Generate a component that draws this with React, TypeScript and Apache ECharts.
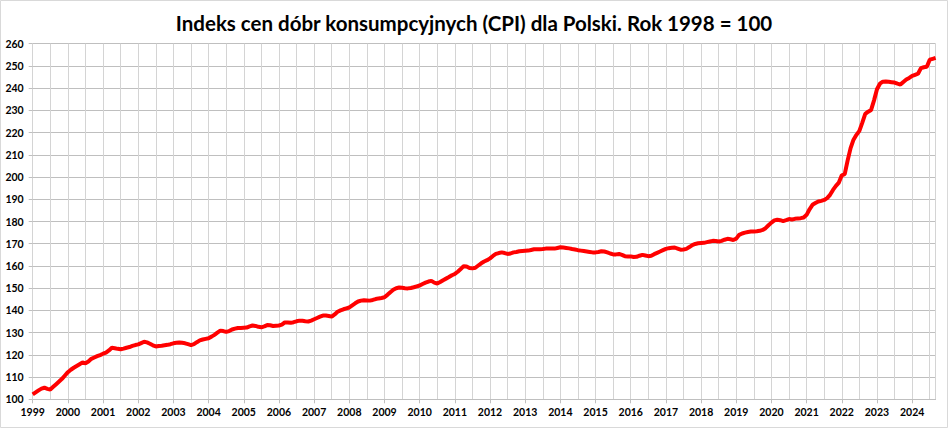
import React, { useEffect, useRef } from "react";
import * as echarts from "echarts";

const TITLE = "Indeks cen dóbr konsumpcyjnych (CPI) dla Polski. Rok 1998 = 100";

const years = [
  1999, 2000, 2001, 2002, 2003, 2004, 2005, 2006, 2007, 2008, 2009, 2010, 2011,
  2012, 2013, 2014, 2015, 2016, 2017, 2018, 2019, 2020, 2021, 2022, 2023, 2024,
];
const lastYearMonths = 9; // data runs to September 2024

// Monthly CPI values (1998 = 100), Jan 1999 .. Sep 2024
const cpi = [
  // 1999
  102.2, 103.1, 104.0, 104.8, 105.2, 104.7, 104.4, 105.6, 106.8, 108.0, 109.2, 110.7,
  // 2000
  112.2, 113.3, 114.2, 115.0, 115.8, 116.6, 116.2, 117.0, 118.2, 118.8, 119.4, 119.9,
  // 2001
  120.5, 121.0, 122.0, 123.2, 123.0, 122.7, 122.5, 122.8, 123.2, 123.5, 124.0, 124.4,
  // 2002
  124.7, 125.3, 125.9, 125.6, 125.0, 124.3, 123.8, 124.0, 124.1, 124.3, 124.5, 124.8,
  // 2003
  125.2, 125.4, 125.6, 125.4, 125.2, 124.8, 124.4, 124.8, 125.7, 126.5, 126.9, 127.2,
  // 2004
  127.5, 128.2, 129.0, 130.0, 130.9, 130.7, 130.3, 130.7, 131.4, 131.8, 132.1, 132.1,
  // 2005
  132.2, 132.3, 132.8, 133.2, 133.0, 132.6, 132.4, 132.8, 133.4, 133.3, 133.0, 133.1,
  // 2006
  133.2, 133.6, 134.6, 134.6, 134.4, 134.7, 135.1, 135.4, 135.3, 135.1, 135.0, 135.4,
  // 2007
  136.0, 136.6, 137.2, 137.7, 137.7, 137.5, 137.2, 138.2, 139.4, 140.0, 140.5, 140.9,
  // 2008
  141.3, 142.3, 143.2, 144.0, 144.4, 144.6, 144.5, 144.4, 144.7, 145.1, 145.4, 145.6,
  // 2009
  145.9, 147.0, 148.2, 149.3, 150.0, 150.3, 150.2, 150.0, 149.9, 150.1, 150.4, 150.8,
  // 2010
  151.2, 151.9, 152.5, 153.0, 153.3, 152.5, 152.1, 152.8, 153.6, 154.3, 155.0, 155.8,
  // 2011
  156.4, 157.4, 158.6, 159.9, 159.8, 159.1, 158.9, 159.2, 160.2, 161.2, 162.0, 162.6,
  // 2012
  163.4, 164.5, 165.4, 165.8, 166.1, 165.8, 165.4, 165.6, 166.1, 166.3, 166.6, 166.7,
  // 2013
  166.8, 166.9, 167.2, 167.5, 167.5, 167.5, 167.6, 167.8, 167.8, 167.8, 167.8, 168.1,
  // 2014
  168.4, 168.3, 168.1, 167.9, 167.6, 167.4, 167.1, 166.9, 166.7, 166.5, 166.3, 166.1,
  // 2015
  166.1, 166.3, 166.6, 166.5, 166.1, 165.6, 165.2, 165.2, 165.4, 165.0, 164.4, 164.3,
  // 2016
  164.3, 164.0, 164.1, 164.6, 165.0, 164.7, 164.4, 164.6, 165.3, 165.9, 166.5, 167.1,
  // 2017
  167.7, 168.0, 168.2, 168.3, 167.8, 167.3, 167.4, 167.7, 168.5, 169.4, 169.9, 170.2,
  // 2018
  170.3, 170.4, 170.7, 171.0, 171.3, 171.2, 171.0, 171.3, 171.8, 172.2, 172.0, 171.7,
  // 2019
  172.3, 174.0, 174.6, 175.0, 175.3, 175.5, 175.5, 175.6, 175.8, 176.2, 177.0, 178.3,
  // 2020
  179.5, 180.5, 180.8, 180.6, 180.2, 180.6, 181.1, 180.9, 181.2, 181.4, 181.5, 181.8,
  // 2021
  183.0, 185.5, 187.5, 188.3, 189.0, 189.3, 189.7, 190.5, 192.0, 194.2, 196.0, 197.5,
  // 2022
  200.8, 201.3, 207.5, 213.0, 216.8, 219.0, 220.8, 224.5, 228.4, 229.4, 230.2, 234.5,
  // 2023
  239.5, 242.0, 242.9, 243.0, 242.9, 242.7, 242.5, 242.0, 241.6, 242.8, 243.9, 244.6,
  // 2024
  245.5, 246.0, 246.5, 249.0, 249.4, 249.6, 252.8, 253.2, 253.6,
];

const yMin = 100;
const yMax = 260;
const yStep = 10;

const months: string[] = [];
years.forEach((y, yi) => {
  const n = yi === years.length - 1 ? lastYearMonths : 12;
  for (let m = 1; m <= n; m++) months.push(`${y}-${String(m).padStart(2, "0")}`);
});

export default function App() {
  const ref = useRef<HTMLDivElement>(null);

  useEffect(() => {
    if (!ref.current) return;
    const chart = echarts.init(ref.current, undefined, { renderer: "svg" });
    const last = months.length - 1;
    chart.setOption({
      animation: false,
      backgroundColor: "#ffffff",
      title: {
        text: TITLE,
        left: "center",
        top: 7,
        textStyle: {
          fontFamily: "Lato",
          fontWeight: "bold",
          fontSize: 20.5,
          color: "#000000",
        },
      },
      graphic: [
        {
          type: "rect",
          shape: { x: 0.5, y: 0.5, width: 947, height: 427 },
          style: { fill: "none", stroke: "#d9d9d9", lineWidth: 1 },
          silent: true,
          z: 100,
        },
      ],
      grid: {
        left: 32.7,
        right: 12.4,
        top: 43.7,
        bottom: 28.7,
        containLabel: false,
      },
      xAxis: {
        type: "category",
        data: months,
        boundaryGap: false,
        axisLine: { show: true, lineStyle: { color: "#bfbfbf", width: 1 } },
        axisTick: {
          show: true,
          length: 4,
          interval: (i: number) => i % 12 === 0,
          lineStyle: { color: "#bfbfbf" },
        },
        axisLabel: {
          interval: (i: number) => i % 12 === 0,
          formatter: (v: string) => v.slice(0, 4),
          fontFamily: "Lato",
          fontWeight: "bold",
          fontSize: 10.5,
          color: "#000000",
          margin: 7,
        },
        splitLine: {
          show: true,
          interval: (i: number) => i % 6 === 0 || i === last,
          lineStyle: { color: "#d4d4d4", width: 1 },
        },
      },
      yAxis: {
        type: "value",
        min: yMin,
        max: yMax,
        interval: yStep,
        axisLine: { show: false },
        axisTick: { show: true, length: 4, lineStyle: { color: "#bfbfbf" } },
        axisLabel: {
          fontFamily: "Lato",
          fontWeight: "bold",
          fontSize: 10.5,
          color: "#000000",
          margin: 9,
        },
        splitLine: { show: true, lineStyle: { color: "#bfbfbf", width: 1 } },
      },
      series: [
        {
          type: "line",
          data: cpi,
          symbol: "none",
          lineStyle: { color: "#ff0000", width: 4 },
          z: 10,
        },
      ],
    });
    return () => chart.dispose();
  }, []);

  return (
    <div
      ref={ref}
      style={{ position: "absolute", left: 0, top: 0, width: 948, height: 428 }}
    />
  );
}
